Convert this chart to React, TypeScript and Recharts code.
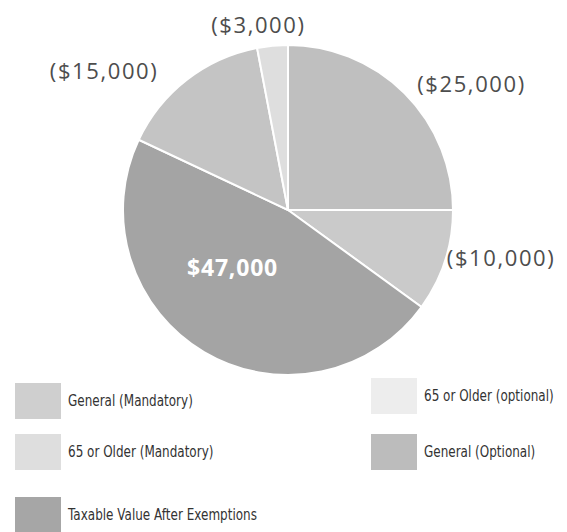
import React from 'react';
import { PieChart, Pie, Cell } from 'recharts';

const categories = [
  'General (Mandatory)',
  'General (Optional)',
  'Taxable Value After Exemptions',
  '65 or Older (Mandatory)',
  '65 or Older (optional)',
];
const values = [25000, 10000, 47000, 15000, 3000];
const valueLabels = ['($25,000)', '($10,000)', '$47,000', '($15,000)', '($3,000)'];
const sliceColors = ['#bfbfbf', '#cacaca', '#a4a4a4', '#c4c4c4', '#dedede'];
const swatchColors = ['#cfcfcf', '#bcbcbc', '#a6a6a6', '#dedede', '#ededed'];

const legendLayout = [
  { idx: 0, left: 15, top: 383 },
  { idx: 4, left: 371, top: 378 },
  { idx: 3, left: 15, top: 434 },
  { idx: 1, left: 371, top: 434 },
  { idx: 2, left: 15, top: 497 },
];

const data = categories.map((name, i) => ({ name, value: values[i] }));

const RAD = Math.PI / 180;
// small hand nudges so the labels sit where the original put them
const NUDGE = [[-3, 5], [-19, -11], [-16, -10], [-15, 8], [-12, 0]];

const renderLabel = (props: any) => {
  const { cx, cy, midAngle, outerRadius, index } = props;
  const text = valueLabels[index];
  const [nx, ny] = NUDGE[index];
  if (index === 2) {
    const r = outerRadius * 0.47;
    const x = cx + r * Math.cos(-midAngle * RAD) + nx;
    const y = cy + r * Math.sin(-midAngle * RAD) + ny;
    return (
      <text x={x} y={y} fill="#ffffff" textAnchor="middle" dominantBaseline="central"
        fontFamily="'Open Sans', sans-serif" fontSize={23} fontWeight={700} letterSpacing={0.8}>
        {text}
      </text>
    );
  }
  const r = outerRadius + 22;
  const c = Math.cos(-midAngle * RAD);
  const x = cx + r * c + nx;
  const y = cy + r * Math.sin(-midAngle * RAD) + ny;
  const anchor = Math.abs(c) < 0.2 ? 'middle' : c > 0 ? 'start' : 'end';
  return (
    <text x={x} y={y} fill="#4d4d4d" textAnchor={anchor} dominantBaseline="central"
      fontFamily="'Open Sans', sans-serif" fontSize={22} letterSpacing={1.6}>
      {text}
    </text>
  );
};

export default function App() {
  return (
    <div style={{ position: 'absolute', left: 0, top: 0, width: 567, height: 532, background: '#fff' }}>
      <PieChart width={567} height={532}>
        <Pie
          data={data}
          dataKey="value"
          cx={283}
          cy={205}
          outerRadius={165}
          startAngle={90}
          endAngle={-270}
          stroke="#ffffff"
          strokeWidth={2}
          label={renderLabel}
          labelLine={false}
          isAnimationActive={false}
        >
          {data.map((d, i) => (
            <Cell key={d.name} fill={sliceColors[i]} />
          ))}
        </Pie>
      </PieChart>
      {legendLayout.map(({ idx, left, top }) => (
        <div key={idx} style={{ position: 'absolute', left, top, display: 'flex', alignItems: 'center', whiteSpace: 'nowrap' }}>
          <div style={{ width: 46, height: 36, background: swatchColors[idx] }} />
          <span style={{
            marginLeft: 7, fontFamily: "'DejaVu Sans', sans-serif",
            fontSize: 15, color: '#333', display: 'inline-block',
            transform: 'scaleX(0.8)', transformOrigin: 'left center',
          }}>
            {categories[idx]}
          </span>
        </div>
      ))}
    </div>
  );
}
